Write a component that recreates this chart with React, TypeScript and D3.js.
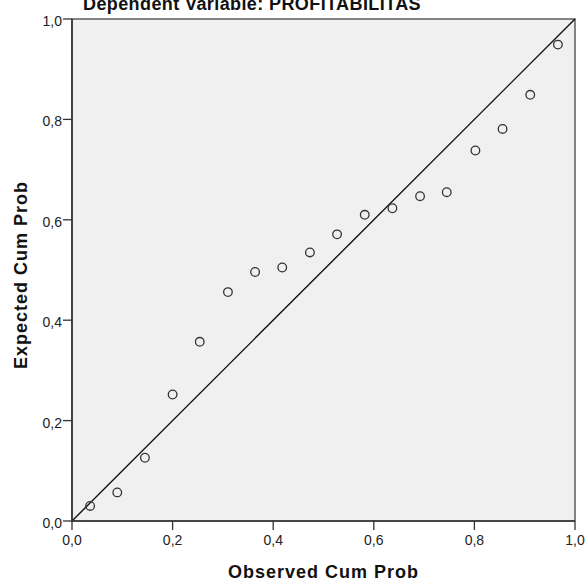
import React from "react";
import * as d3 from "d3";

const observed = [0.036, 0.090, 0.145, 0.200, 0.254, 0.310, 0.364, 0.418, 0.473, 0.527, 0.582, 0.637, 0.692, 0.745, 0.802, 0.856, 0.911, 0.966];
const expected = [0.030, 0.057, 0.126, 0.252, 0.357, 0.456, 0.496, 0.505, 0.535, 0.571, 0.610, 0.623, 0.647, 0.655, 0.738, 0.781, 0.849, 0.949];
const ticks = [0, 0.2, 0.4, 0.6, 0.8, 1.0];
const title = "Dependent Variable: PROFITABILITAS";
const xLabel = "Observed Cum Prob";
const yLabel = "Expected Cum Prob";

const W = 586, H = 582;
const L = 72, R = 575, T = 19, B = 521;

export default function App() {
  const x = d3.scaleLinear().domain([0, 1]).range([L, R]);
  const y = d3.scaleLinear().domain([0, 1]).range([B, T]);
  const fmt = (v: number) => v.toFixed(1).replace(".", ",");
  const font = "'Liberation Sans', Arial, sans-serif";
  return (
    <svg width={W} height={H} style={{ position: "absolute", left: 0, top: 0 }} fontFamily={font}>
      <rect x={0} y={0} width={W} height={H} fill="#fff" />
      <text x={252} y={9.5} textAnchor="middle" fontSize={18} letterSpacing={0.4} fontWeight="bold" fill="#111">{title}</text>
      <rect x={L} y={T} width={R - L} height={B - T} fill="#f0f0f0" stroke="#444" strokeWidth={1.3} />
      <line x1={x(0)} y1={y(0)} x2={x(1)} y2={y(1)} stroke="#111" strokeWidth={1.4} />
      {observed.map((o, i) => (
        <circle key={i} cx={x(o)} cy={y(expected[i])} r={4.3} fill="none" stroke="#333" strokeWidth={1.3} />
      ))}
      <line x1={L} y1={T} x2={L} y2={B} stroke="#333" strokeWidth={1.6} />
      <line x1={L} y1={B} x2={R} y2={B} stroke="#333" strokeWidth={1.6} />
      {ticks.map((t) => (
        <g key={"y" + t}>
          <line x1={L - 9} x2={L} y1={y(t)} y2={y(t)} stroke="#333" strokeWidth={1.3} />
          <text x={L - 10} y={y(t) + 7} textAnchor="end" fontSize={14} fill="#222">{fmt(t)}</text>
        </g>
      ))}
      {ticks.map((t) => (
        <g key={"x" + t}>
          <line x1={x(t)} x2={x(t)} y1={B} y2={B + 9} stroke="#333" strokeWidth={1.3} />
          <text x={x(t)} y={B + 24} textAnchor="middle" fontSize={14} fill="#222">{fmt(t)}</text>
        </g>
      ))}
      <text x={(L + R) / 2} y={578} textAnchor="middle" fontSize={18} letterSpacing={1} fontWeight="bold" fill="#111">{xLabel}</text>
      <text transform={`translate(27,275) rotate(-90)`} textAnchor="middle" fontSize={18} letterSpacing={1} fontWeight="bold" fill="#111">{yLabel}</text>
    </svg>
  );
}
